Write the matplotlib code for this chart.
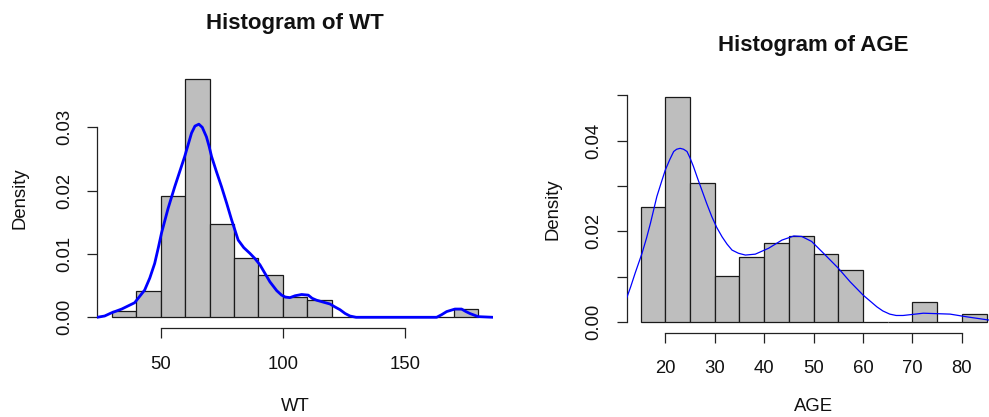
import matplotlib
matplotlib.use("Agg")
import matplotlib.pyplot as plt

plt.rcParams['font.family'] = ['Liberation Sans', 'DejaVu Sans']

# ---- data: WT histogram (density) ----
wt_edges = [30, 40, 50, 60, 70, 80, 90, 100, 110, 120, 130, 140, 150, 160, 170, 180]
wt_density = [0.0010, 0.0042, 0.0192, 0.0376, 0.0147, 0.0094, 0.0066, 0.0032,
              0.0028, 0.0, 0.0, 0.0, 0.0, 0.0, 0.00136]
wt_kde_x = [24.0, 27.0, 29.8, 34.0, 39.3, 43.4, 45.5, 47.5, 49.0, 50.3, 53.0, 55.7,
            59.8, 62.6, 64.0, 65.6, 67.0, 68.7, 69.8, 70.8, 72.8, 74.9, 77.0, 79.0,
            81.7, 84.0, 86.5, 88.5, 90.6, 94.7, 97.5, 99.5, 101.0, 102.9, 105.0,
            107.7, 110.4, 112.0, 113.8, 116.5, 119.3, 121.5, 123.4, 125.5, 127.5,
            130.0, 163.0, 165.0, 167.1, 170.5, 173.2, 175.0, 176.6, 180.0, 186.0]
wt_kde_y = [0.0000, 0.0002, 0.0007, 0.0013, 0.0023, 0.0043, 0.0062, 0.0085, 0.0110,
            0.0133, 0.0172, 0.0206, 0.0254, 0.0291, 0.0302, 0.0305, 0.0300, 0.0285,
            0.0270, 0.0254, 0.0230, 0.0206, 0.0180, 0.0154, 0.0122, 0.0110, 0.0101,
            0.0093, 0.0083, 0.0056, 0.0042, 0.0035, 0.0032, 0.0031, 0.0034, 0.0036,
            0.0035, 0.0030, 0.0027, 0.0024, 0.0021, 0.0016, 0.0012, 0.0006, 0.0002,
            0.0000, 0.0000, 0.0004, 0.0009, 0.0013, 0.0013, 0.0009, 0.0006, 0.0001,
            0.0000]
wt_xticks = [50, 100, 150]
wt_yticks = [0.00, 0.01, 0.02, 0.03]
wt_yticklabels = ["0.00", "0.01", "0.02", "0.03"]

# ---- data: AGE histogram (density) ----
age_edges = [15, 20, 25, 30, 35, 40, 45, 50, 55, 60, 65, 70, 75, 80, 85]
age_density = [0.0253, 0.0496, 0.0307, 0.0103, 0.0143, 0.0175, 0.0189, 0.0150,
               0.0116, 0.0, 0.0, 0.0045, 0.0, 0.00176]
age_kde_x = [12.05, 13.0, 13.9, 14.6, 15.3, 16.2, 17.0, 18.3, 19.2, 20.0, 20.9, 21.7,
             22.3, 23.0, 23.7, 24.4, 25.0, 25.7, 26.5, 27.4, 28.4, 29.4, 30.4, 31.5,
             32.5, 33.5, 34.8, 36.2, 38.2, 40.9, 43.6, 46.0, 47.6, 49.6, 52.0, 55.0,
             57.4, 60.0, 62.8, 64.0, 65.4, 66.7, 68.1, 72.2, 77.6, 81.0, 85.4]
age_kde_y = [0.0049, 0.0078, 0.0108, 0.0130, 0.0152, 0.0185, 0.0218, 0.0277, 0.0308,
             0.0335, 0.0358, 0.0376, 0.0381, 0.0383, 0.0381, 0.0376, 0.0362, 0.0343,
             0.0318, 0.0291, 0.0261, 0.0233, 0.0209, 0.0188, 0.0172, 0.0159, 0.0152,
             0.0148, 0.0150, 0.0163, 0.0181, 0.0190, 0.0189, 0.0178, 0.0152, 0.0119,
             0.0089, 0.0060, 0.0034, 0.0025, 0.0018, 0.0015, 0.0015, 0.0020, 0.0018,
             0.0012, 0.0005]
age_xticks = [20, 30, 40, 50, 60, 70, 80]
age_yticks = [0.00, 0.01, 0.02, 0.03, 0.04, 0.05]
age_yticklabels = ["0.00", "", "0.02", "", "0.04", ""]

W, H = 989, 417
fig = plt.figure(figsize=(W / 100, H / 100), dpi=100)


def px_axes(x0, x1, ytop, ybot):
    return fig.add_axes([x0 / W, (H - ybot) / H, (x1 - x0) / W, (ybot - ytop) / H])


def r_hist(ax, edges, dens, kx, ky, lw, xticks, yticks, yticklabels):
    widths = [edges[i + 1] - edges[i] for i in range(len(dens))]
    ax.bar(edges[:-1], dens, width=widths, align='edge', color='#BEBEBE',
           edgecolor='#1a1a1a', linewidth=0.9, zorder=2)
    ax.plot(kx, ky, color='#0000FF', lw=lw, zorder=3, clip_on=True,
            solid_joinstyle='round', solid_capstyle='round')
    lo, hi = edges[0], edges[-1]
    r = hi - lo
    ax.set_xlim(lo - 0.04 * r, hi + 0.04 * r)
    m = max(dens)
    ax.set_ylim(-0.04 * m, 1.04 * m)
    for s in ['top', 'right']:
        ax.spines[s].set_visible(False)
    ax.spines['left'].set_bounds(yticks[0], yticks[-1])
    ax.spines['bottom'].set_bounds(xticks[0], xticks[-1])
    ax.spines['bottom'].set_position(('outward', 1))
    for s in ['left', 'bottom']:
        ax.spines[s].set_color('#222222')
        ax.spines[s].set_linewidth(0.9)
    ax.set_xticks(xticks)
    ax.set_xticklabels([str(t) for t in xticks])
    ax.set_yticks(yticks)
    ax.set_yticklabels(yticklabels, rotation=90, va='center')
    ax.tick_params(axis='both', length=7.5, width=0.9, color='#222222',
                   labelsize=13.3, labelcolor='#111111')
    ax.tick_params(axis='x', pad=12.5)
    ax.tick_params(axis='y', pad=10)
    ax.set_facecolor('none')
    return ax


panels = [
    (wt_edges, wt_density, wt_kde_x, wt_kde_y, 2.0, wt_xticks, wt_yticks,
     wt_yticklabels, "Histogram of WT", "WT", 23.3, 406.7, 20.0,
     97.3, 492.8, 69.7, 326.8),
    (age_edges, age_density, age_kde_x, age_kde_y, 0.9, age_xticks, age_yticks,
     age_yticklabels, "Histogram of AGE", "AGE", 45.7, 406.7, 553.3,
     626.7, 1000.5, 88.0, 331.3),
]

for (edges, dens, kx, ky, lw, xt, yt_, ytl, title, xlabel, ty, xly, ylx,
     x0, x1, ytop, ybot) in panels:
    ax = px_axes(x0, x1, ytop, ybot)
    r_hist(ax, edges, dens, kx, ky, lw, xt, yt_, ytl)
    cx = (x0 + x1) / 2
    fig.text(cx / W, 1 - ty / H, title, ha='center', va='center',
             fontsize=16, fontweight='bold', color='#111111')
    fig.text(cx / W, 1 - xly / H, xlabel, ha='center', va='center',
             fontsize=13.3, color='#111111')
    fig.text(ylx / W, 1 - ((ytop + ybot) / 2) / H, 'Density', ha='center',
             va='center', rotation=90, fontsize=13.3, color='#111111')

fig.savefig('out.png', dpi=100)
